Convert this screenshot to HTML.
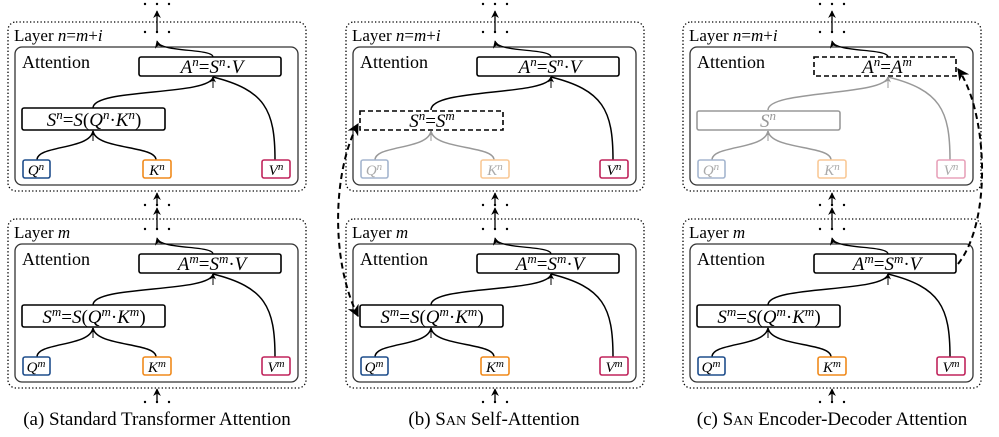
<!DOCTYPE html>
<html><head><meta charset="utf-8"><style>
html,body{margin:0;padding:0;background:#fff;}
svg{display:block;}
text{font-family:"Liberation Serif",serif;}
.m{font-style:italic;}
.r{font-style:normal;}
</style></head><body>
<svg width="999" height="437" viewBox="0 0 999 437" xmlns="http://www.w3.org/2000/svg">
<defs>
<marker id="ah" viewBox="0 0 10 10" refX="9" refY="5" markerWidth="6" markerHeight="6" orient="auto-start-reverse"><path d="M0,0 L10,5 L0,10 L3,5 z" fill="#000"/></marker>
<marker id="ahg" viewBox="0 0 10 10" refX="9" refY="5" markerWidth="6" markerHeight="6" orient="auto"><path d="M0,0 L10,5 L0,10 L3,5 z" fill="#999"/></marker>
<g id="dots">
 <circle cx="145" cy="0" r="1.2"/><circle cx="157" cy="0" r="1.2"/><circle cx="169" cy="0" r="1.2"/>
</g>
</defs>

<!-- ================= PANEL A ================= -->
<g id="pa">
 <use href="#dots" y="4"/><use href="#dots" y="32"/>
 <line x1="157" y1="31" x2="157" y2="11" stroke="#000" stroke-width="1.3" marker-end="url(#ah)"/>
 <use href="#dots" y="205"/><use href="#dots" y="229"/>
 <line x1="157" y1="205" x2="157" y2="193" stroke="#000" stroke-width="1.3" marker-end="url(#ah)"/>
 <line x1="157" y1="229" x2="157" y2="208" stroke="#000" stroke-width="1.3" marker-end="url(#ah)"/>
 <use href="#dots" y="402"/>
 <line x1="157" y1="401" x2="157" y2="389" stroke="#000" stroke-width="1.3" marker-end="url(#ah)"/>

 <rect x="8" y="22" width="298" height="169" rx="8" fill="none" stroke="#000" stroke-width="1.3" stroke-dasharray="1.3 2.2"/>
 <text x="14" y="41" font-size="17">Layer <tspan class="m">n</tspan>=<tspan class="m">m</tspan>+<tspan class="m">i</tspan></text>
 <rect x="15" y="47" width="283" height="138" rx="7" fill="none" stroke="#333" stroke-width="1.3"/>
 <text x="22" y="68" font-size="18">Attention</text>
 <path d="M213 57 C213 48,160 53,157 41" fill="none" stroke="#000" stroke-width="1.3" marker-end="url(#ah)"/>
 <rect x="139" y="57" width="142" height="19" rx="2" fill="none" stroke="#000" stroke-width="1.6"/>
 <text x="212" y="73" font-size="19" text-anchor="middle" class="m">A<tspan font-size="13" dy="-7">n</tspan><tspan dy="7" class="r">=</tspan>S<tspan font-size="13" dy="-7">n</tspan><tspan dy="7" class="r">·</tspan>V</text>
 <path d="M93 108 C93 88,210 96,213 77 M275 160 C275 110,265 90,213 77" fill="none" stroke="#000" stroke-width="1.5"/>
 <path d="M213 88 L213 77" stroke="#000" marker-end="url(#ah)"/>
 <rect x="22" y="108" width="143" height="22" rx="2" fill="none" stroke="#000" stroke-width="1.6"/>
 <text x="94" y="126" font-size="19" text-anchor="middle" class="m">S<tspan font-size="13" dy="-7">n</tspan><tspan dy="7" class="r">=</tspan>S<tspan class="r">(</tspan>Q<tspan font-size="13" dy="-7">n</tspan><tspan dy="7" class="r">·</tspan>K<tspan font-size="13" dy="-7">n</tspan><tspan dy="7" class="r">)</tspan></text>
 <path d="M37 160 C37 145,90 150,93 131 M156 160 C156 145,96 150,93 131" fill="none" stroke="#000" stroke-width="1.5"/>
 <path d="M93 141 L93 131" stroke="#000" marker-end="url(#ah)"/>
 <rect x="23" y="160" width="27" height="18" rx="2" fill="none" stroke="#1f4e8c" stroke-width="1.6"/>
 <text x="36" y="175" font-size="15" text-anchor="middle" class="m">Q<tspan font-size="11" dy="-5">n</tspan></text>
 <rect x="143" y="160" width="28" height="18" rx="2" fill="none" stroke="#f08a1c" stroke-width="1.6"/>
 <text x="157" y="175" font-size="15" text-anchor="middle" class="m">K<tspan font-size="11" dy="-5">n</tspan></text>
 <rect x="262" y="160" width="28" height="18" rx="2" fill="none" stroke="#c0245c" stroke-width="1.6"/>
 <text x="276" y="175" font-size="15" text-anchor="middle" class="m">V<tspan font-size="11" dy="-5">n</tspan></text>
</g>

<g id="bm">
 <rect x="8" y="219" width="298" height="169" rx="8" fill="none" stroke="#000" stroke-width="1.3" stroke-dasharray="1.3 2.2"/>
 <text x="14" y="238" font-size="17">Layer <tspan class="m">m</tspan></text>
 <rect x="15" y="244" width="283" height="138" rx="7" fill="none" stroke="#333" stroke-width="1.3"/>
 <text x="22" y="265" font-size="18">Attention</text>
 <path d="M213 254 C213 245,160 250,157 238" fill="none" stroke="#000" stroke-width="1.3" marker-end="url(#ah)"/>
 <rect x="139" y="254" width="142" height="19" rx="2" fill="none" stroke="#000" stroke-width="1.6"/>
 <text x="212" y="270" font-size="19" text-anchor="middle" class="m">A<tspan font-size="13" dy="-7">m</tspan><tspan dy="7" class="r">=</tspan>S<tspan font-size="13" dy="-7">m</tspan><tspan dy="7" class="r">·</tspan>V</text>
 <path d="M93 305 C93 285,210 293,213 274 M275 357 C275 307,265 287,213 274" fill="none" stroke="#000" stroke-width="1.5"/>
 <path d="M213 285 L213 274" stroke="#000" marker-end="url(#ah)"/>
 <rect x="22" y="305" width="143" height="22" rx="2" fill="none" stroke="#000" stroke-width="1.6"/>
 <text x="94" y="323" font-size="19" text-anchor="middle" class="m">S<tspan font-size="13" dy="-7">m</tspan><tspan dy="7" class="r">=</tspan>S<tspan class="r">(</tspan>Q<tspan font-size="13" dy="-7">m</tspan><tspan dy="7" class="r">·</tspan>K<tspan font-size="13" dy="-7">m</tspan><tspan dy="7" class="r">)</tspan></text>
 <path d="M37 357 C37 342,90 347,93 328 M156 357 C156 342,96 347,93 328" fill="none" stroke="#000" stroke-width="1.5"/>
 <path d="M93 338 L93 328" stroke="#000" marker-end="url(#ah)"/>
 <rect x="23" y="357" width="27" height="18" rx="2" fill="none" stroke="#1f4e8c" stroke-width="1.6"/>
 <text x="36" y="372" font-size="15" text-anchor="middle" class="m">Q<tspan font-size="11" dy="-5">m</tspan></text>
 <rect x="143" y="357" width="28" height="18" rx="2" fill="none" stroke="#f08a1c" stroke-width="1.6"/>
 <text x="157" y="372" font-size="15" text-anchor="middle" class="m">K<tspan font-size="11" dy="-5">m</tspan></text>
 <rect x="262" y="357" width="28" height="18" rx="2" fill="none" stroke="#c0245c" stroke-width="1.6"/>
 <text x="276" y="372" font-size="15" text-anchor="middle" class="m">V<tspan font-size="11" dy="-5">m</tspan></text>
</g>
<text x="157" y="425" font-size="19" text-anchor="middle">(a) Standard Transformer Attention</text>

<!-- ================= PANEL B ================= -->
<g transform="translate(338,0)">
 <use href="#dots" y="4"/><use href="#dots" y="32"/>
 <line x1="157" y1="31" x2="157" y2="11" stroke="#000" stroke-width="1.3" marker-end="url(#ah)"/>
 <use href="#dots" y="205"/><use href="#dots" y="229"/>
 <line x1="157" y1="205" x2="157" y2="193" stroke="#000" stroke-width="1.3" marker-end="url(#ah)"/>
 <line x1="157" y1="229" x2="157" y2="208" stroke="#000" stroke-width="1.3" marker-end="url(#ah)"/>
 <use href="#dots" y="402"/>
 <line x1="157" y1="401" x2="157" y2="389" stroke="#000" stroke-width="1.3" marker-end="url(#ah)"/>
 <rect x="8" y="22" width="298" height="169" rx="8" fill="none" stroke="#000" stroke-width="1.3" stroke-dasharray="1.3 2.2"/>
 <text x="14" y="41" font-size="17">Layer <tspan class="m">n</tspan>=<tspan class="m">m</tspan>+<tspan class="m">i</tspan></text>
 <rect x="15" y="47" width="283" height="138" rx="7" fill="none" stroke="#333" stroke-width="1.3"/>
 <text x="22" y="68" font-size="18">Attention</text>
 <path d="M213 57 C213 48,160 53,157 41" fill="none" stroke="#000" stroke-width="1.3" marker-end="url(#ah)"/>
 <rect x="139" y="57" width="142" height="19" rx="2" fill="none" stroke="#000" stroke-width="1.6"/>
 <text x="212" y="73" font-size="19" text-anchor="middle" class="m">A<tspan font-size="13" dy="-7">n</tspan><tspan dy="7" class="r">=</tspan>S<tspan font-size="13" dy="-7">n</tspan><tspan dy="7" class="r">·</tspan>V</text>
 <path d="M93 110 C93 88,210 96,213 77 M275 160 C275 110,265 90,213 77" fill="none" stroke="#000" stroke-width="1.5"/>
 <path d="M213 88 L213 77" stroke="#000" marker-end="url(#ah)"/>
 <rect x="22" y="111" width="143" height="19" fill="none" stroke="#000" stroke-width="1.6" stroke-dasharray="5 3"/>
 <text x="94" y="127" font-size="19" text-anchor="middle" class="m">S<tspan font-size="13" dy="-7">n</tspan><tspan dy="7" class="r">=</tspan>S<tspan font-size="13" dy="-7">m</tspan></text>
 <path d="M37 160 C37 145,90 150,93 131 M156 160 C156 145,96 150,93 131" fill="none" stroke="#999" stroke-width="1.5"/>
 <path d="M93 141 L93 131" stroke="#999" marker-end="url(#ahg)"/>
 <rect x="23" y="160" width="27" height="18" rx="2" fill="none" stroke="#a5b6cf" stroke-width="1.6"/>
 <text x="36" y="175" font-size="15" text-anchor="middle" class="m" fill="#aaa">Q<tspan font-size="11" dy="-5">n</tspan></text>
 <rect x="143" y="160" width="28" height="18" rx="2" fill="none" stroke="#f9c997" stroke-width="1.6"/>
 <text x="157" y="175" font-size="15" text-anchor="middle" class="m" fill="#aaa">K<tspan font-size="11" dy="-5">n</tspan></text>
 <rect x="262" y="160" width="28" height="18" rx="2" fill="none" stroke="#c0245c" stroke-width="1.6"/>
 <text x="276" y="175" font-size="15" text-anchor="middle" class="m">V<tspan font-size="11" dy="-5">n</tspan></text>
 <use href="#bm" x="0" y="0"/>
 <path d="M20 316 C-8 260,-5 170,20 124" fill="none" stroke="#000" stroke-width="2" stroke-dasharray="6 4" marker-start="url(#ah)" marker-end="url(#ah)"/>
</g>
<text x="494" y="425" font-size="19" text-anchor="middle">(b) S<tspan font-size="14">AN</tspan> Self-Attention</text>

<!-- ================= PANEL C ================= -->
<g transform="translate(675,0)">
 <use href="#dots" y="4"/><use href="#dots" y="32"/>
 <line x1="157" y1="31" x2="157" y2="11" stroke="#000" stroke-width="1.3" marker-end="url(#ah)"/>
 <use href="#dots" y="205"/><use href="#dots" y="229"/>
 <line x1="157" y1="205" x2="157" y2="193" stroke="#000" stroke-width="1.3" marker-end="url(#ah)"/>
 <line x1="157" y1="229" x2="157" y2="208" stroke="#000" stroke-width="1.3" marker-end="url(#ah)"/>
 <use href="#dots" y="402"/>
 <line x1="157" y1="401" x2="157" y2="389" stroke="#000" stroke-width="1.3" marker-end="url(#ah)"/>
 <rect x="8" y="22" width="298" height="169" rx="8" fill="none" stroke="#000" stroke-width="1.3" stroke-dasharray="1.3 2.2"/>
 <text x="14" y="41" font-size="17">Layer <tspan class="m">n</tspan>=<tspan class="m">m</tspan>+<tspan class="m">i</tspan></text>
 <rect x="15" y="47" width="283" height="138" rx="7" fill="none" stroke="#333" stroke-width="1.3"/>
 <text x="22" y="68" font-size="18">Attention</text>
 <path d="M213 57 C213 48,160 53,157 41" fill="none" stroke="#000" stroke-width="1.3" marker-end="url(#ah)"/>
 <rect x="139" y="57" width="142" height="19" fill="none" stroke="#000" stroke-width="1.6" stroke-dasharray="5 3"/>
 <text x="212" y="73" font-size="19" text-anchor="middle" class="m">A<tspan font-size="13" dy="-7">n</tspan><tspan dy="7" class="r">=</tspan>A<tspan font-size="13" dy="-7">m</tspan></text>
 <path d="M93 110 C93 90,210 96,213 77 M275 160 C275 110,265 90,213 77" fill="none" stroke="#999" stroke-width="1.5"/>
 <path d="M213 88 L213 77" stroke="#999" marker-end="url(#ahg)"/>
 <rect x="22" y="111" width="143" height="19" rx="2" fill="none" stroke="#999" stroke-width="1.6"/>
 <text x="93" y="127" font-size="19" text-anchor="middle" class="m" fill="#999">S<tspan font-size="13" dy="-7">n</tspan></text>
 <path d="M37 160 C37 145,90 150,93 131 M156 160 C156 145,96 150,93 131" fill="none" stroke="#999" stroke-width="1.5"/>
 <path d="M93 141 L93 131" stroke="#999" marker-end="url(#ahg)"/>
 <rect x="23" y="160" width="27" height="18" rx="2" fill="none" stroke="#a5b6cf" stroke-width="1.6"/>
 <text x="36" y="175" font-size="15" text-anchor="middle" class="m" fill="#aaa">Q<tspan font-size="11" dy="-5">n</tspan></text>
 <rect x="143" y="160" width="28" height="18" rx="2" fill="none" stroke="#f9c997" stroke-width="1.6"/>
 <text x="157" y="175" font-size="15" text-anchor="middle" class="m" fill="#aaa">K<tspan font-size="11" dy="-5">n</tspan></text>
 <rect x="262" y="160" width="28" height="18" rx="2" fill="none" stroke="#e8a3bb" stroke-width="1.6"/>
 <text x="276" y="175" font-size="15" text-anchor="middle" class="m" fill="#aaa">V<tspan font-size="11" dy="-5">n</tspan></text>
 <use href="#bm" x="0" y="0"/>
 <path d="M283 264 C318 220,312 110,283 69" fill="none" stroke="#000" stroke-width="2" stroke-dasharray="6 4" marker-end="url(#ah)"/>
</g>
<text x="832" y="425" font-size="19" text-anchor="middle">(c) S<tspan font-size="14">AN</tspan> Encoder-Decoder Attention</text>
</svg>
</body></html>
